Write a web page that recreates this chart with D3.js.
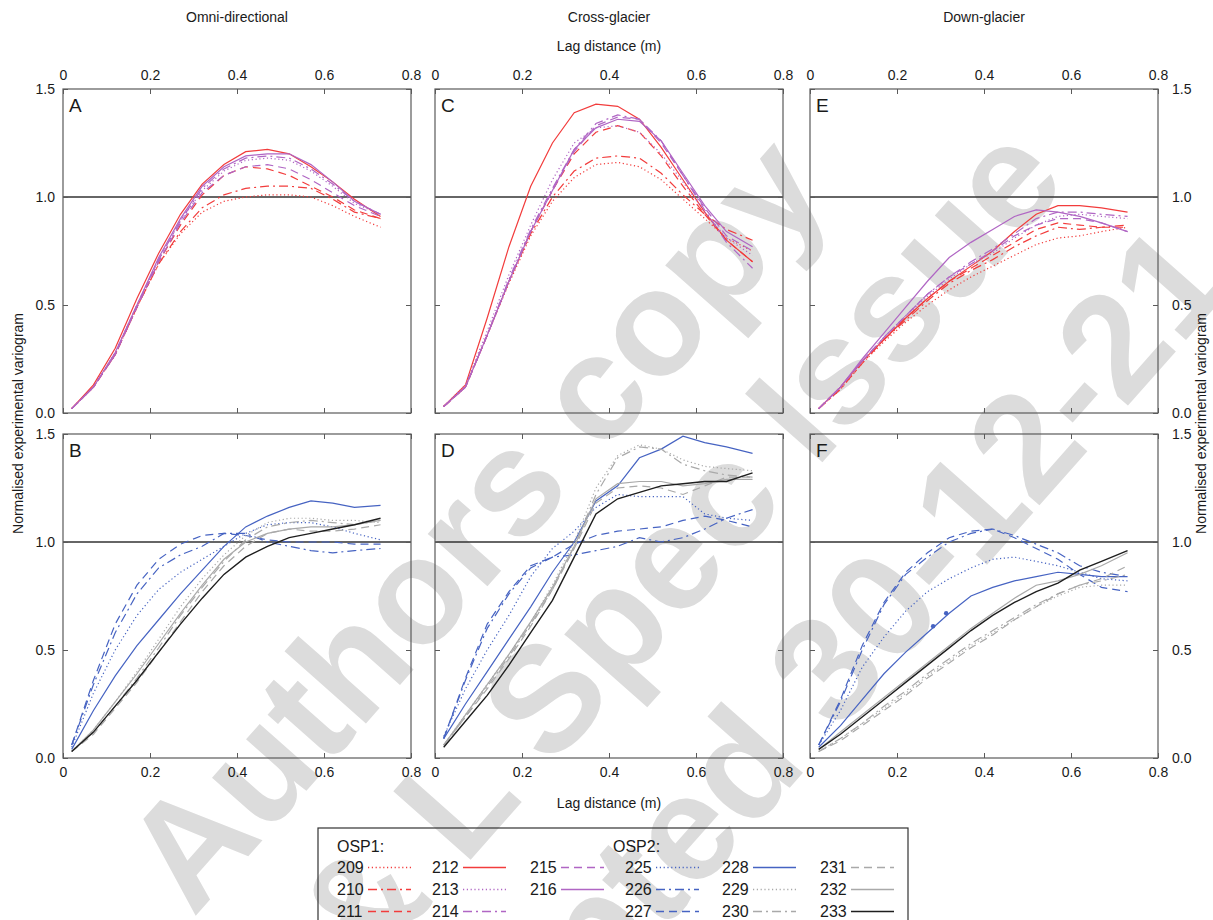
<!DOCTYPE html>
<html>
<head>
<meta charset="utf-8">
<script src="https://cdn.jsdelivr.net/npm/d3@7"></script>
<style>
  body { margin: 0; background: #fff; }
  svg text { font-family: "Liberation Sans", Arial, sans-serif; fill: #1a1a1a; }
</style>
</head>
<body>
<svg id="chart" width="1213" height="920"></svg>
<script>
// lag distances (m) at which each experimental variogram was read
const lags = [0.02, 0.07, 0.12, 0.17, 0.22, 0.27, 0.32, 0.37, 0.42, 0.47, 0.52, 0.57, 0.62, 0.67, 0.73];

const colTitles = ["Omni-directional", "Cross-glacier", "Down-glacier"];
const xTicks = [0, 0.2, 0.4, 0.6, 0.8];
const yTicks = [0, 0.5, 1, 1.5];

const osp1Ids = ["209", "210", "211", "212", "213", "214", "215", "216"];
const osp2Ids = ["225", "226", "227", "228", "229", "230", "231", "232", "233"];

// A: omni-directional, OSP1
const panelA = {
  "209": [0.02, 0.12, 0.27, 0.49, 0.69, 0.83, 0.93, 0.98, 1.00, 1.01, 1.01, 1.00, 0.96, 0.91, 0.86],
  "210": [0.02, 0.12, 0.27, 0.49, 0.69, 0.84, 0.95, 1.01, 1.04, 1.05, 1.05, 1.04, 0.99, 0.93, 0.90],
  "211": [0.02, 0.12, 0.27, 0.49, 0.70, 0.87, 1.01, 1.10, 1.14, 1.13, 1.10, 1.05, 1.00, 0.94, 0.90],
  "212": [0.02, 0.13, 0.30, 0.53, 0.74, 0.92, 1.06, 1.15, 1.21, 1.22, 1.20, 1.14, 1.07, 0.99, 0.91],
  "213": [0.02, 0.12, 0.28, 0.50, 0.71, 0.89, 1.03, 1.12, 1.17, 1.18, 1.17, 1.12, 1.05, 0.97, 0.92],
  "214": [0.02, 0.12, 0.27, 0.50, 0.71, 0.89, 1.04, 1.13, 1.18, 1.19, 1.18, 1.13, 1.06, 0.98, 0.92],
  "215": [0.02, 0.12, 0.27, 0.49, 0.70, 0.88, 1.02, 1.10, 1.14, 1.15, 1.13, 1.08, 1.02, 0.96, 0.91],
  "216": [0.02, 0.12, 0.28, 0.50, 0.72, 0.90, 1.05, 1.14, 1.19, 1.20, 1.20, 1.15, 1.07, 0.98, 0.92]
};

// C: cross-glacier, OSP1
const panelC = {
  "209": [0.03, 0.12, 0.36, 0.60, 0.82, 0.98, 1.09, 1.15, 1.16, 1.14, 1.08, 0.99, 0.90, 0.81, 0.75],
  "210": [0.03, 0.12, 0.36, 0.61, 0.83, 1.00, 1.12, 1.18, 1.19, 1.18, 1.11, 1.01, 0.92, 0.85, 0.80],
  "211": [0.03, 0.12, 0.36, 0.61, 0.84, 1.03, 1.20, 1.30, 1.33, 1.30, 1.19, 1.05, 0.92, 0.80, 0.70],
  "212": [0.03, 0.13, 0.44, 0.77, 1.05, 1.25, 1.39, 1.43, 1.42, 1.36, 1.23, 1.08, 0.93, 0.80, 0.70],
  "213": [0.03, 0.13, 0.38, 0.64, 0.87, 1.08, 1.25, 1.32, 1.33, 1.30, 1.20, 1.07, 0.93, 0.81, 0.73],
  "214": [0.03, 0.12, 0.36, 0.62, 0.85, 1.04, 1.22, 1.34, 1.38, 1.36, 1.26, 1.10, 0.94, 0.79, 0.67],
  "215": [0.03, 0.12, 0.36, 0.61, 0.84, 1.03, 1.21, 1.33, 1.37, 1.36, 1.25, 1.10, 0.95, 0.82, 0.75],
  "216": [0.03, 0.12, 0.36, 0.61, 0.84, 1.03, 1.22, 1.32, 1.36, 1.35, 1.26, 1.11, 0.96, 0.84, 0.77]
};

// E: down-glacier, OSP1
const panelE = {
  "209": [0.02, 0.11, 0.23, 0.33, 0.42, 0.50, 0.57, 0.63, 0.68, 0.73, 0.78, 0.81, 0.82, 0.84, 0.86],
  "210": [0.02, 0.11, 0.23, 0.34, 0.43, 0.52, 0.60, 0.66, 0.71, 0.77, 0.82, 0.86, 0.85, 0.86, 0.87],
  "211": [0.02, 0.12, 0.24, 0.34, 0.44, 0.53, 0.61, 0.67, 0.73, 0.79, 0.85, 0.88, 0.87, 0.86, 0.86],
  "212": [0.02, 0.12, 0.24, 0.34, 0.44, 0.53, 0.61, 0.68, 0.75, 0.84, 0.92, 0.96, 0.96, 0.95, 0.93],
  "213": [0.02, 0.12, 0.24, 0.35, 0.45, 0.54, 0.62, 0.69, 0.74, 0.81, 0.87, 0.91, 0.92, 0.91, 0.90],
  "214": [0.02, 0.12, 0.24, 0.35, 0.45, 0.55, 0.63, 0.70, 0.76, 0.83, 0.90, 0.93, 0.93, 0.92, 0.91],
  "215": [0.02, 0.12, 0.24, 0.35, 0.45, 0.55, 0.63, 0.69, 0.75, 0.82, 0.87, 0.90, 0.90, 0.88, 0.84],
  "216": [0.02, 0.12, 0.25, 0.37, 0.49, 0.61, 0.72, 0.79, 0.85, 0.91, 0.94, 0.93, 0.91, 0.88, 0.84]
};

// B: omni-directional, OSP2
const panelB = {
  "225": [0.05, 0.30, 0.50, 0.66, 0.78, 0.86, 0.92, 0.98, 1.04, 1.08, 1.09, 1.09, 1.07, 1.04, 1.01],
  "226": [0.06, 0.34, 0.58, 0.76, 0.88, 0.94, 0.98, 1.04, 1.04, 1.00, 0.98, 0.96, 0.95, 0.96, 0.97],
  "227": [0.06, 0.36, 0.62, 0.80, 0.92, 0.99, 1.03, 1.04, 1.03, 1.01, 1.00, 1.00, 1.00, 0.99, 0.99],
  "228": [0.04, 0.22, 0.38, 0.52, 0.64, 0.76, 0.87, 0.98, 1.07, 1.12, 1.16, 1.19, 1.18, 1.16, 1.17],
  "229": [0.03, 0.13, 0.26, 0.40, 0.55, 0.70, 0.83, 0.94, 1.03, 1.09, 1.11, 1.11, 1.10, 1.10, 1.09],
  "230": [0.03, 0.12, 0.24, 0.37, 0.51, 0.66, 0.79, 0.91, 1.01, 1.07, 1.09, 1.10, 1.09, 1.08, 1.10],
  "231": [0.03, 0.11, 0.23, 0.35, 0.49, 0.63, 0.77, 0.89, 0.98, 1.04, 1.06, 1.05, 1.05, 1.06, 1.08],
  "232": [0.03, 0.13, 0.26, 0.39, 0.53, 0.67, 0.80, 0.92, 1.00, 1.04, 1.06, 1.07, 1.07, 1.08, 1.10],
  "233": [0.03, 0.12, 0.24, 0.36, 0.49, 0.62, 0.74, 0.85, 0.93, 0.98, 1.02, 1.04, 1.06, 1.08, 1.11]
};

// D: cross-glacier, OSP2
const panelD = {
  "225": [0.10, 0.32, 0.50, 0.66, 0.84, 0.97, 1.05, 1.16, 1.22, 1.21, 1.21, 1.21, 1.13, 1.11, 1.10],
  "226": [0.09, 0.36, 0.60, 0.76, 0.88, 0.93, 0.94, 0.96, 0.98, 1.02, 1.00, 1.02, 1.06, 1.11, 1.15],
  "227": [0.09, 0.37, 0.62, 0.77, 0.89, 0.93, 0.99, 1.03, 1.05, 1.06, 1.07, 1.10, 1.12, 1.10, 1.07],
  "228": [0.09, 0.25, 0.40, 0.55, 0.70, 0.86, 1.00, 1.19, 1.26, 1.39, 1.43, 1.49, 1.46, 1.44, 1.41],
  "229": [0.06, 0.20, 0.34, 0.48, 0.63, 0.80, 1.00, 1.25, 1.40, 1.45, 1.43, 1.38, 1.35, 1.34, 1.33],
  "230": [0.06, 0.19, 0.33, 0.47, 0.62, 0.78, 0.98, 1.22, 1.39, 1.44, 1.43, 1.36, 1.33, 1.31, 1.30],
  "231": [0.06, 0.19, 0.32, 0.46, 0.61, 0.78, 0.97, 1.18, 1.25, 1.26, 1.25, 1.22, 1.26, 1.30, 1.30],
  "232": [0.06, 0.20, 0.34, 0.48, 0.63, 0.79, 0.98, 1.20, 1.27, 1.28, 1.28, 1.26, 1.27, 1.29, 1.29],
  "233": [0.05, 0.17, 0.29, 0.43, 0.58, 0.73, 0.93, 1.13, 1.20, 1.23, 1.26, 1.27, 1.28, 1.28, 1.32]
};

// F: down-glacier, OSP2
const panelF = {
  "225": [0.06, 0.22, 0.42, 0.56, 0.68, 0.77, 0.83, 0.88, 0.92, 0.93, 0.91, 0.89, 0.86, 0.83, 0.82],
  "226": [0.06, 0.26, 0.50, 0.71, 0.85, 0.93, 1.00, 1.04, 1.06, 1.03, 0.99, 0.95, 0.89, 0.86, 0.84],
  "227": [0.06, 0.27, 0.52, 0.72, 0.86, 0.95, 1.02, 1.05, 1.06, 1.02, 0.97, 0.92, 0.85, 0.79, 0.77],
  "228": [0.05, 0.15, 0.27, 0.39, 0.49, 0.58, 0.67, 0.75, 0.79, 0.82, 0.84, 0.86, 0.85, 0.84, 0.84],
  "229": [0.03, 0.09, 0.16, 0.23, 0.30, 0.38, 0.45, 0.52, 0.58, 0.64, 0.70, 0.75, 0.79, 0.80, 0.80],
  "230": [0.03, 0.09, 0.16, 0.24, 0.31, 0.39, 0.46, 0.53, 0.59, 0.65, 0.71, 0.76, 0.80, 0.82, 0.85],
  "231": [0.03, 0.08, 0.15, 0.22, 0.29, 0.37, 0.44, 0.51, 0.57, 0.64, 0.70, 0.76, 0.80, 0.83, 0.89],
  "232": [0.04, 0.12, 0.20, 0.28, 0.36, 0.44, 0.52, 0.60, 0.67, 0.74, 0.80, 0.82, 0.85, 0.89, 0.95],
  "233": [0.04, 0.11, 0.19, 0.27, 0.35, 0.43, 0.51, 0.59, 0.66, 0.72, 0.77, 0.81, 0.87, 0.91, 0.96]
};
// two marked points on 228 in panel F
const markF = [[0.283, 0.61], [0.313, 0.67]];

// watermark text lines over the figure
const watermarkText = ["Authors copy", "& L Spec Issue", "Accepted 30-12-21"];
const watermarkEnd = [[795, 160], [1031, 148], [1196, 250]];

// ---- styling ----
const red = "#f23c3c", purple = "#b066c4", blue = "#4663c2", grey = "#a9a9a9", black = "#1e1e1e";
const DOT = "1.2,2.6", DASHDOT = "9,4,2,4", DASH = "8,5";
const seriesColor = {
  "209": red, "210": red, "211": red, "212": red,
  "213": purple, "214": purple, "215": purple, "216": purple,
  "225": blue, "226": blue, "227": blue, "228": blue,
  "229": grey, "230": grey, "231": grey, "232": grey, "233": black
};
const seriesDash = {
  "209": DOT, "210": DASHDOT, "211": DASH, "212": null,
  "213": DOT, "214": DASHDOT, "215": DASH, "216": null,
  "225": DOT, "226": DASHDOT, "227": DASH, "228": null,
  "229": DOT, "230": DASHDOT, "231": DASH, "232": null, "233": null
};

const panels = [
  { letter: "A", col: 0, row: 0, ids: osp1Ids, data: panelA },
  { letter: "C", col: 1, row: 0, ids: osp1Ids, data: panelC },
  { letter: "E", col: 2, row: 0, ids: osp1Ids, data: panelE },
  { letter: "B", col: 0, row: 1, ids: osp2Ids, data: panelB },
  { letter: "D", col: 1, row: 1, ids: osp2Ids, data: panelD },
  { letter: "F", col: 2, row: 1, ids: osp2Ids, data: panelF, marks: markF }
];

const colLeft = [63, 435, 810];
const rowTop = [89, 434];
const panelW = 348, panelH = 324;

const svg = d3.select("#chart");

// watermark behind everything
const wm = svg.append("g");
watermarkText.forEach((t, i) => {
  wm.append("text")
    .attr("transform", `translate(${watermarkEnd[i][0]},${watermarkEnd[i][1]}) rotate(-48.5)`)
    .attr("text-anchor", "end")
    .attr("dominant-baseline", "central")
    .style("font-size", "150px").style("font-weight", "bold")
    .style("fill", "#dcdcdc")
    .text(t);
});

const x = d3.scaleLinear().domain([0, 0.8]).range([0, panelW]);
const y = d3.scaleLinear().domain([0, 1.5]).range([panelH, 0]);
const line = d3.line().x(d => x(d[0])).y(d => y(d[1]));
const fmtX = d => d === 0 ? "0" : d3.format(".1f")(d);
const fmtY = d3.format(".1f");
const blank = () => "";

panels.forEach(p => {
  const g = svg.append("g").attr("transform", `translate(${colLeft[p.col]},${rowTop[p.row]})`);

  g.append("line")
    .attr("x1", 0).attr("x2", panelW).attr("y1", y(1)).attr("y2", y(1))
    .attr("stroke", "#333").attr("stroke-width", 1.3);

  p.ids.forEach(id => {
    const pts = lags.map((l, i) => [l, p.data[id][i]]);
    g.append("path").datum(pts)
      .attr("d", line)
      .attr("fill", "none")
      .attr("stroke", seriesColor[id])
      .attr("stroke-width", id === "233" ? 1.4 : 1.2)
      .attr("stroke-dasharray", seriesDash[id]);
  });

  if (p.marks) {
    g.selectAll("circle.mk").data(p.marks).join("circle")
      .attr("cx", d => x(d[0])).attr("cy", d => y(d[1])).attr("r", 2.2)
      .attr("fill", blue);
  }

  g.append("rect").attr("width", panelW).attr("height", panelH)
    .attr("fill", "none").attr("stroke", "#5a5a5a").attr("stroke-width", 1.2);

  const axes = [
    { ax: d3.axisTop(x).tickValues(xTicks).tickFormat(p.row === 0 ? fmtX : blank), t: "translate(0,0)", pad: 9 },
    { ax: d3.axisBottom(x).tickValues(xTicks).tickFormat(p.row === 1 ? fmtX : blank), t: `translate(0,${panelH})`, pad: 9 },
    { ax: d3.axisLeft(y).tickValues(yTicks).tickFormat(p.col === 0 ? fmtY : blank), t: "translate(0,0)", pad: 8 },
    { ax: d3.axisRight(y).tickValues(yTicks).tickFormat(p.col === 2 ? fmtY : blank), t: `translate(${panelW},0)`, pad: 14 }
  ];
  axes.forEach(a => {
    const ag = g.append("g").attr("transform", a.t)
      .call(a.ax.tickSizeInner(-5).tickSizeOuter(0).tickPadding(a.pad));
    ag.select(".domain").remove();
    ag.selectAll(".tick line").attr("stroke", "#5a5a5a");
    ag.selectAll(".tick text").style("font-size", "14px").style("fill", "#1a1a1a");
  });

  g.append("text").attr("x", 6).attr("y", 23)
    .style("font-size", "19px").text(p.letter);
});

// column titles and axis titles
colTitles.forEach((t, i) => {
  svg.append("text").attr("x", colLeft[i] + panelW / 2).attr("y", 22)
    .attr("text-anchor", "middle").style("font-size", "14px").text(t);
});
const midX = colLeft[1] + panelW / 2;
svg.append("text").attr("x", midX).attr("y", 51).attr("text-anchor", "middle")
  .style("font-size", "14px").text("Lag distance (m)");
svg.append("text").attr("x", midX).attr("y", 808).attr("text-anchor", "middle")
  .style("font-size", "14px").text("Lag distance (m)");
const midY = (rowTop[0] + rowTop[1] + panelH) / 2;
svg.append("text").attr("transform", `translate(23,${midY}) rotate(-90)`)
  .attr("text-anchor", "middle").style("font-size", "14px").text("Normalised experimental variogram");
svg.append("text").attr("transform", `translate(1206,${midY}) rotate(-90)`)
  .attr("text-anchor", "middle").style("font-size", "14px").text("Normalised experimental variogram");

// legend
const legendCols = [
  ["209", "210", "211"], ["212", "213", "214"], ["215", "216"],
  ["225", "226", "227"], ["228", "229", "230"], ["231", "232", "233"]
];
const legendColX = [337, 432, 530, 625, 722, 820];
const legendRowY = [867, 889, 911];
const lg = svg.append("g");
lg.append("rect").attr("x", 318).attr("y", 828).attr("width", 590).attr("height", 100)
  .attr("fill", "none").attr("stroke", "#333").attr("stroke-width", 1.2);
lg.append("text").attr("x", 337).attr("y", 852).style("font-size", "16px").text("OSP1:");
lg.append("text").attr("x", 613).attr("y", 852).style("font-size", "16px").text("OSP2:");
legendCols.forEach((ids, c) => {
  ids.forEach((id, r) => {
    const lx = legendColX[c], ly = legendRowY[r];
    lg.append("text").attr("x", lx).attr("y", ly + 6).style("font-size", "16px").text(id);
    lg.append("line")
      .attr("x1", lx + 31).attr("x2", lx + 74).attr("y1", ly + 0.5).attr("y2", ly + 0.5)
      .attr("stroke", seriesColor[id]).attr("stroke-width", id === "233" ? 1.6 : 1.3)
      .attr("stroke-dasharray", seriesDash[id]);
  });
});
</script>
</body>
</html>
